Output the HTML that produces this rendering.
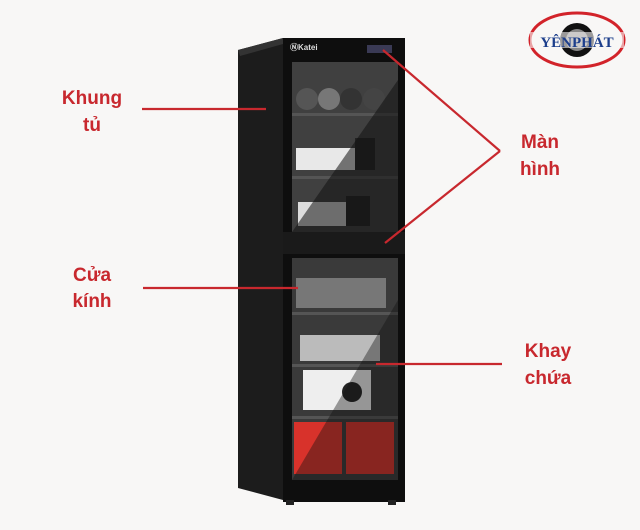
<!DOCTYPE html><html><head><style>body{margin:0;background:#f8f7f6}svg{display:block}</style></head><body>
<svg width="640" height="530" viewBox="0 0 640 530" xmlns="http://www.w3.org/2000/svg">
<rect width="640" height="530" fill="#f8f7f6"/>
<g font-family="Liberation Sans, sans-serif" font-weight="bold" font-size="19" fill="#c8282e" text-anchor="middle">
<text x="92" y="104">Khung</text><text x="92" y="131">tủ</text>
<text x="92" y="281">Cửa</text><text x="92" y="307">kính</text>
<text x="540" y="148">Màn</text><text x="540" y="175">hình</text>
<text x="548" y="357">Khay</text><text x="548" y="384">chứa</text>
</g>
<polygon points="238,50 283,38 283,500 238,488" fill="#1c1c1c"/>
<polygon points="238,50 283,38 283,44 240,56" fill="#333"/>
<rect x="283" y="38" width="122" height="464" fill="#0e0e0e"/>
<text x="290" y="50" font-family="Liberation Sans, sans-serif" font-size="8" font-weight="bold" fill="#ddd">ⓃKatei</text>
<rect x="367" y="45" width="25" height="8" fill="#3a3a55"/>
<rect x="367" y="238" width="25" height="8" fill="#3a3a55"/>
<rect x="292" y="62" width="106" height="170" fill="#404040"/>
<circle cx="307" cy="99" r="11" fill="#555"/><circle cx="329" cy="99" r="11" fill="#777"/><circle cx="351" cy="99" r="11" fill="#333"/><circle cx="374" cy="99" r="11" fill="#444"/>
<rect x="292" y="113" width="106" height="3" fill="#555"/>
<rect x="296" y="148" width="70" height="22" fill="#e8e8e8"/>
<rect x="355" y="138" width="20" height="32" fill="#222"/>
<rect x="292" y="176" width="106" height="3" fill="#555"/>
<rect x="298" y="202" width="60" height="24" fill="#ddd"/>
<rect x="346" y="196" width="24" height="30" fill="#222"/>
<polygon points="292,232 398,80 398,232" fill="#111" opacity="0.55"/>
<rect x="283" y="232" width="122" height="22" fill="#1a1a1a"/>
<rect x="292" y="258" width="106" height="222" fill="#3a3a3a"/>
<rect x="296" y="278" width="90" height="30" fill="#777"/>
<rect x="292" y="312" width="106" height="3" fill="#555"/>
<rect x="300" y="335" width="80" height="26" fill="#bbb"/>
<rect x="292" y="364" width="106" height="3" fill="#555"/>
<rect x="303" y="370" width="68" height="40" fill="#eee"/>
<circle cx="352" cy="392" r="10" fill="#222"/>
<rect x="292" y="416" width="106" height="3" fill="#555"/>
<rect x="294" y="422" width="48" height="52" fill="#d8322b"/>
<rect x="346" y="422" width="48" height="52" fill="#d8322b"/>
<polygon points="292,480 398,300 398,480" fill="#111" opacity="0.4"/>
<rect x="286" y="500" width="8" height="5" fill="#222"/><rect x="388" y="500" width="8" height="5" fill="#222"/>
<g stroke="#c8282e" stroke-width="2.2">
<line x1="142" y1="109" x2="266" y2="109"/>
<line x1="143" y1="288" x2="298" y2="288"/>
<line x1="376" y1="364" x2="502" y2="364"/>
<line x1="383" y1="50" x2="500" y2="151"/>
<line x1="385" y1="243" x2="500" y2="151"/>
</g>
<ellipse cx="577" cy="40" rx="47" ry="27" fill="none" stroke="#d2232a" stroke-width="3"/>
<circle cx="577" cy="40" r="17" fill="#111"/><circle cx="577" cy="40" r="11" fill="#888"/>
<rect x="530" y="32" width="94" height="16" fill="#f8f7f6" opacity="0.6"/>
<text x="577" y="47" font-family="Liberation Serif, serif" font-weight="bold" font-size="15" fill="#1d3f8c" text-anchor="middle">YÊNPHÁT</text>
</svg></body></html>
